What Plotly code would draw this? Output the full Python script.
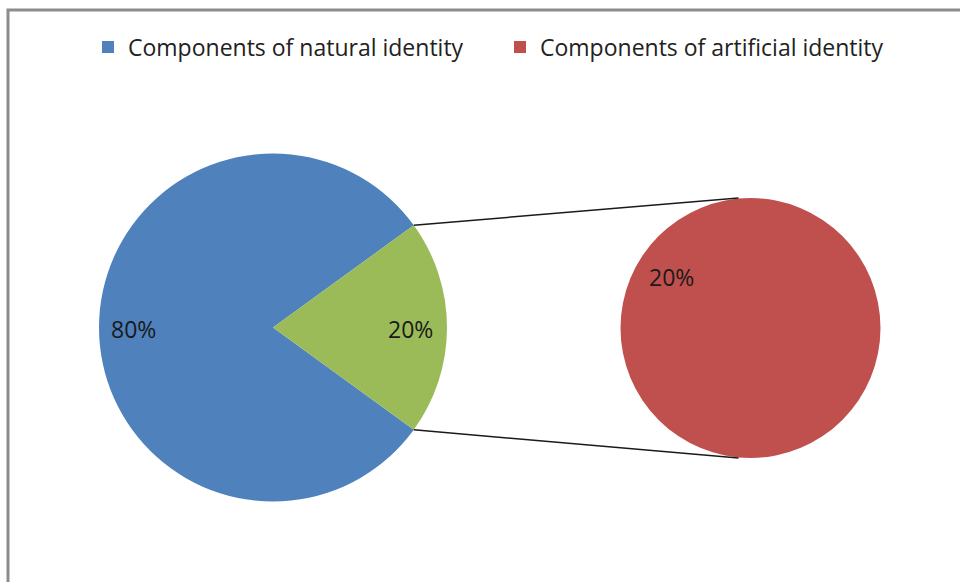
import math
import plotly.graph_objects as go

# ---- data ----
main_labels = ["Components of natural identity", "Components of artificial identity"]
main_values = [80, 20]
main_colors = ["#4F81BD", "#9BBB59"]

sub_labels = ["Components of artificial identity"]
sub_values = [20]
sub_colors = ["#C0504D"]

W, H = 960, 582

# pie geometry in pixels (center x, center y from top, radius)
c1x, c1y, r1 = 273.0, 327.5, 174.0
c2x, c2y, r2 = 750.5, 328.0, 130.0


def dom(cx, cy, r):
    return dict(x=[(cx - r) / W, (cx + r) / W], y=[(H - cy - r) / H, (H - cy + r) / H])


def px(x, y):
    return x / W, 1 - y / H


total = sum(main_values)
other_frac = main_values[1] / total
half = other_frac * 360 / 2.0  # half-angle of the "other" slice, centred at 3 o'clock
rotation = 90 + half  # start of first slice, measured clockwise from 12 o'clock

fig = go.Figure()
fig.add_trace(go.Pie(
    labels=sub_labels, values=sub_values, marker=dict(colors=sub_colors, line=dict(width=0)),
    domain=dom(c2x, c2y, r2), sort=False, textinfo="none", hoverinfo="label+percent",
))
fig.add_trace(go.Pie(
    labels=main_labels, values=main_values, marker=dict(colors=main_colors, line=dict(width=0)),
    domain=dom(c1x, c1y, r1), sort=False, direction="clockwise", rotation=rotation,
    textinfo="none", hoverinfo="label+percent",
))

# connector lines derived from slice geometry
a = math.radians(half)
p_top = (c1x + r1 * math.cos(a), c1y - r1 * math.sin(a))
p_bot = (c1x + r1 * math.cos(a), c1y + r1 * math.sin(a))
q_top = (c2x - 12, c2y - r2)
q_bot = (c2x - 12, c2y + r2)
shapes = []
for p, q in [(p_top, q_top), (p_bot, q_bot)]:
    x0, y0 = px(*p)
    x1, y1 = px(*q)
    shapes.append(dict(type="line", xref="paper", yref="paper", x0=x0, y0=y0, x1=x1, y1=y1,
                       line=dict(color="#1a1a1a", width=1.5), layer="above"))

# chart frame
fx0, fy0 = px(8, 10)
shapes.append(dict(type="rect", xref="paper", yref="paper", x0=fx0, y0=-0.02, x1=1.02, y1=fy0,
                   line=dict(color="#8c8c8c", width=3), layer="below"))

label_font = dict(family="Open Sans", size=23, color="#1a1a1a")
annotations = []
for val, (lx, ly) in [(main_values[0], (133, 329)), (main_values[1], (410, 329))]:
    x, y = px(lx, ly)
    annotations.append(dict(x=x, y=y, xref="paper", yref="paper", showarrow=False,
                            xanchor="center", yanchor="middle",
                            text=f"{val / total * 100:.0f}%", font=label_font))
x, y = px(671, 277)
annotations.append(dict(x=x, y=y, xref="paper", yref="paper", showarrow=False,
                        xanchor="center", yanchor="middle",
                        text=f"{sub_values[0] / sum(sub_values) * other_frac * 100:.0f}%", font=label_font))

fig.update_layout(
    width=W, height=H, margin=dict(l=0, r=0, t=0, b=0),
    paper_bgcolor="white", plot_bgcolor="white",
    shapes=shapes, annotations=annotations,
    showlegend=True,
    legend=dict(orientation="h", traceorder="reversed", x=88 / W, xanchor="left",
                y=1 - 47 / H, yanchor="middle",
                font=dict(family="Open Sans", size=23, color="#222222"),
                entrywidth=367, entrywidthmode="pixels"),
)

fig.write_html("out.html", config={"displayModeBar": False},
               post_script="document.body.style.margin='0';")
